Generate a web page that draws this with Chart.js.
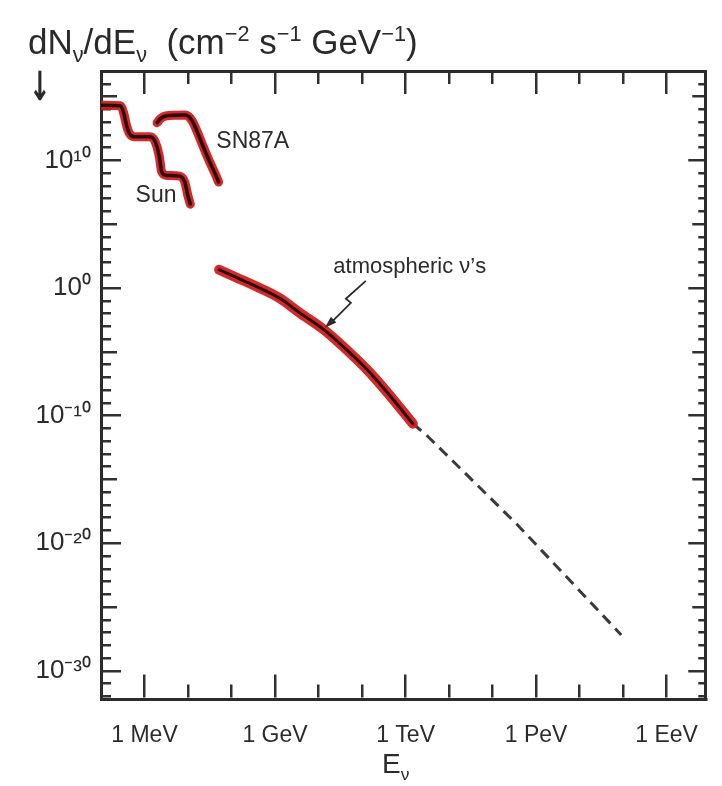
<!DOCTYPE html>
<html>
<head>
<meta charset="utf-8">
<script src="https://cdn.jsdelivr.net/npm/chart.js@4.4.1/dist/chart.umd.min.js"></script>
<style>
html,body{margin:0;padding:0;background:#fff;}
#wrap{position:relative;width:722px;height:786px;overflow:hidden;background:#fff;}
#c{position:absolute;left:0;top:0;}
.t{position:absolute;font-family:"Liberation Sans",Arial,sans-serif;color:#2a2a2a;white-space:nowrap;line-height:1;}
.t sub,.t sup{font-size:62%;line-height:0;}
#arrow{font-family:"DejaVu Sans",sans-serif;font-weight:bold;transform:scaleX(0.65);transform-origin:left top;}
</style>
</head>
<body>
<div id="wrap">
<canvas id="c" width="722" height="786"></canvas>
<div class="t" style="left:28px;top:24px;font-size:35px;">dN<sub>ν</sub>/dE<sub>ν</sub>&nbsp; (cm<sup>−2</sup> s<sup>−1</sup> GeV<sup>−1</sup>)</div>
<div class="t" id="arrow" style="left:29px;top:66px;font-size:40px;">↓</div>
<div class="t" style="left:382px;top:750px;font-size:28px;">E<sub>ν</sub></div>
</div>
<script>
// ---- data (energy in GeV, flux in cm^-2 s^-1 GeV^-1) ----
const sunEnergy = [1.05e-4, 2.79e-4, 3.31e-4, 3.94e-4, 4.42e-4, 5.75e-4, 1.28e-3, 1.66e-3, 2.19e-3, 2.47e-3, 3.24e-3, 6.46e-3, 8.43e-3, 1.0e-2, 1.13e-2];
const sunFlux   = [2.1e14, 1.9e14, 5.2e13, 4.2e12, 1.45e12, 7.1e11, 7.2e11, 4.3e11, 2.0e10, 1.35e9, 6.6e8, 5.8e8, 1.95e8, 1.55e7, 3.7e6];

const snEnergy = [1.95e-3, 2.33e-3, 3.02e-3, 8.71e-3, 1.24e-2, 1.64e-2, 2.18e-2, 3.17e-2, 4.2e-2, 5.05e-2];
const snFlux   = [8.9e12, 1.86e13, 3.0e13, 3.55e13, 1.29e13, 1.62e12, 1.45e11, 7.2e9, 8.9e8, 2.0e8];

const atmEnergy = [5.18e-2, 0.125, 0.44, 1.285, 3.78, 13.2, 39.1, 138, 407, 1469];
const atmFlux   = [26.9, 7.0, 1.01, 0.155, 1.07e-2, 5.5e-4, 2.14e-5, 3.3e-7, 5.0e-9, 2.34e-11];

const extEnergy = [1469, 3020, 3.62e5, 9.06e7];
const extFlux   = [2.34e-11, 3.0e-12, 3.09e-19, 6.6e-28];

const xTickExps   = [-3, 0, 3, 6, 9];
const xTickLabels = ['1 MeV', '1 GeV', '1 TeV', '1 PeV', '1 EeV'];
const yTickExps   = [10, 0, -10, -20, -30];
const yTickLabels = ['10¹⁰', '10⁰', '10⁻¹⁰', '10⁻²⁰', '10⁻³⁰'];

const noteTexts = ['SN87A', 'Sun', 'atmospheric ν\u2019s'];
const noteX     = [0.0447, 6.24e-4, 21.9];
const noteY     = [2.9e11, 1.6e7, 48.5];
const arrowTip  = {x: 13.96, y: 7.6e-4};

const xRange = [1e-4, Math.pow(10, 9.9)];
const yRange = [Math.pow(10, -32.2), 1e17];

// ---- helpers ----
const FONT = '"Liberation Sans", Arial, sans-serif';
const INK = '#2b2b2b';
const pts = (xs, ys) => xs.map((v, i) => ({x: v, y: ys[i]}));
const expOf = v => Math.round(Math.log10(v));
const decades = (a, b) => { const r = []; for (let e = a; e <= b; e++) r.push({value: Math.pow(10, e)}); return r; };

// inward tick marks on both sides: a dashed grid line that shows only its two ends
function tickDash(ctx, vertical, len) {
  const ca = ctx.chart.chartArea;
  if (!ca || !ctx.tick) return [];
  const L = len(expOf(ctx.tick.value));
  const span = (vertical ? (ca.bottom - ca.top) : (ca.right - ca.left)) - 1.5;
  return [L, Math.max(0, span - 2 * L), L, 5000];
}

const red = 'rgba(212,28,28,0.95)';
const black = 'rgba(28,10,10,0.92)';
function curve(data, color, width, order) {
  return {data, borderColor: color, borderWidth: width, pointRadius: 0, fill: false,
          cubicInterpolationMode: 'monotone', borderCapStyle: 'round', borderJoinStyle: 'round', order};
}

const datasets = [
  curve(pts(sunEnergy, sunFlux), black, 3.5, 0),
  curve(pts(snEnergy, snFlux), black, 3.5, 0),
  curve(pts(atmEnergy, atmFlux), black, 3, 0),
  curve(pts(sunEnergy, sunFlux), red, 9, 1),
  curve(pts(snEnergy, snFlux), red, 9, 1),
  curve(pts(atmEnergy, atmFlux), red, 10, 1),
  {data: pts(extEnergy, extFlux), borderColor: '#3a3a3a', borderWidth: 3, borderDash: [11, 7],
   pointRadius: 0, fill: false, tension: 0, order: 2}
];

const noteFontSize = i => (i === 2 ? 22 : 23);
const notesPlugin = {
  id: 'notes',
  afterDatasetsDraw(chart) {
    const {ctx, scales: {x, y}} = chart;
    ctx.save();
    ctx.fillStyle = INK;
    ctx.strokeStyle = INK;
    ctx.textBaseline = 'middle';
    ctx.textAlign = 'left';
    noteTexts.forEach((t, i) => {
      ctx.font = noteFontSize(i) + 'px ' + FONT;
      ctx.fillText(t, x.getPixelForValue(noteX[i]), y.getPixelForValue(noteY[i]));
    });
    // zig-zag pointer to the atmospheric curve
    const tx = x.getPixelForValue(arrowTip.x), ty = y.getPixelForValue(arrowTip.y);
    const path = [[41, -47], [21, -29], [26, -25], [15, -14], [5, -4]];
    ctx.lineWidth = 1.8;
    ctx.beginPath();
    ctx.moveTo(tx + path[0][0], ty + path[0][1]);
    for (let i = 1; i < path.length; i++) ctx.lineTo(tx + path[i][0], ty + path[i][1]);
    ctx.stroke();
    const ang = Math.atan2(-14, 15);
    ctx.beginPath();
    ctx.moveTo(tx, ty);
    ctx.lineTo(tx + 12 * Math.cos(ang) - 4 * Math.sin(ang), ty + 12 * Math.sin(ang) + 4 * Math.cos(ang));
    ctx.lineTo(tx + 12 * Math.cos(ang) + 4 * Math.sin(ang), ty + 12 * Math.sin(ang) - 4 * Math.cos(ang));
    ctx.closePath();
    ctx.fill();
    ctx.restore();
  }
};

new Chart(document.getElementById('c'), {
  type: 'line',
  data: {datasets},
  plugins: [notesPlugin],
  options: {
    responsive: false, animation: false, devicePixelRatio: 1,
    layout: {padding: {top: 71, right: 16, left: 0, bottom: 0}},
    plugins: {legend: {display: false}, tooltip: {enabled: false}},
    scales: {
      x: {
        type: 'logarithmic', position: 'bottom', min: xRange[0], max: xRange[1],
        afterBuildTicks: s => { s.ticks = decades(-4, 9); },
        afterFit: s => { s.height = 87; },
        ticks: {autoSkip: false, maxTicksLimit: 1000, maxRotation: 0, padding: 23, color: INK,
                font: {family: FONT, size: 23},
                callback: v => { const k = xTickExps.indexOf(expOf(v)); return k >= 0 ? xTickLabels[k] : ''; }},
        grid: {drawTicks: false, drawOnChartArea: true, color: '#303030', lineWidth: 2.5},
        border: {display: true, color: INK, width: 3,
                 dash: ctx => tickDash(ctx, true, e => (e % 3 === 0 ? 23 : 13))}
      },
      y: {
        type: 'logarithmic', position: 'left', min: yRange[0], max: yRange[1],
        afterBuildTicks: s => { s.ticks = decades(-32, 17); },
        afterFit: s => { s.width = 101; },
        ticks: {autoSkip: false, maxTicksLimit: 1000, padding: 10, color: INK,
                font: {family: FONT, size: 26},
                callback: v => { const k = yTickExps.indexOf(expOf(v)); return k >= 0 ? yTickLabels[k] : ''; }},
        grid: {drawTicks: false, drawOnChartArea: true, color: '#303030', lineWidth: 2.5},
        border: {display: true, color: INK, width: 3,
                 dash: ctx => tickDash(ctx, false, e => (e % 10 === 0 ? 18 : (e % 5 === 0 ? 14 : 8)))}
      },
      x2: {
        type: 'linear', position: 'top', min: 0, max: 1,
        afterFit: s => { s.height = 0; },
        ticks: {display: false},
        grid: {drawOnChartArea: false, drawTicks: false},
        border: {display: true, color: INK, width: 3}
      },
      y2: {
        type: 'linear', position: 'right', min: 0, max: 1,
        afterFit: s => { s.width = 0; },
        ticks: {display: false},
        grid: {drawOnChartArea: false, drawTicks: false},
        border: {display: true, color: INK, width: 3}
      }
    }
  }
});
</script>
</body>
</html>
